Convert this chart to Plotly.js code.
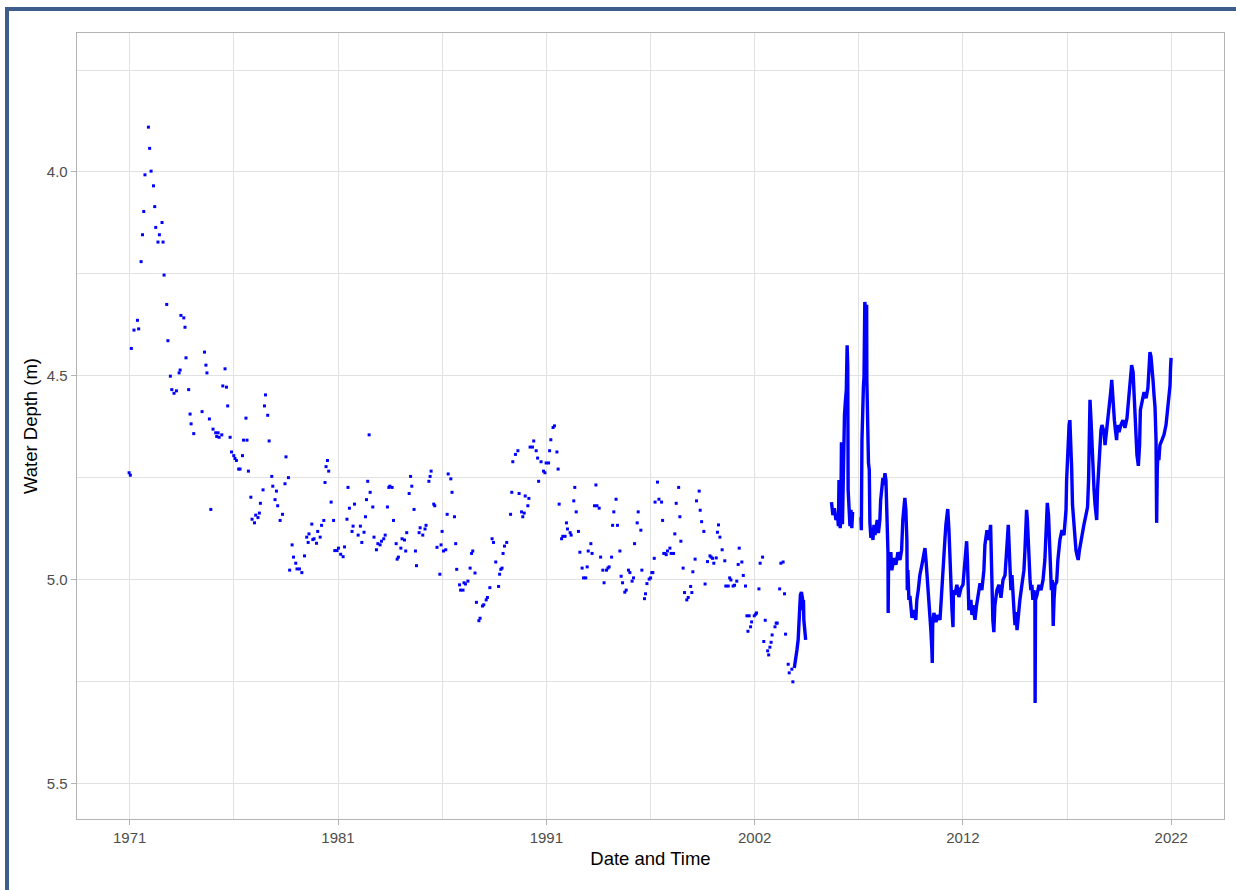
<!DOCTYPE html>
<html>
<head>
<meta charset="utf-8">
<script src="https://cdn.plot.ly/plotly-3.0.1.min.js"></script>
<style>
  html, body { margin:0; padding:0; background:#ffffff; overflow:hidden; }
  #chart { position:absolute; left:0; top:0; width:1236px; height:890px; }
  #frame { position:absolute; left:5px; top:7px; width:1231px; height:883px;
           border-top:4px solid #3d5e8b; border-left:4px solid #3d5e8b;
           box-sizing:border-box; pointer-events:none; z-index:10; }
</style>
</head>
<body>
<div id="chart"></div>
<div id="frame"></div>
<script>
// ---- Axis ticks (decimal years) ----
const xTickVals = [1971.25, 1981.5, 1991.75, 2002, 2012.25, 2022.5];
const xTickText = ['1971', '1981', '1991', '2002', '2012', '2022'];
const xMinorVals = [1976.375, 1986.625, 1996.875, 2007.125, 2017.375];
const yTickVals = [4.0, 4.5, 5.0, 5.5];
const yTickText = ['4.0', '4.5', '5.0', '5.5'];
const yMinorVals = [3.75, 4.25, 4.75, 5.25];

// ---- Manual (sparse) measurements ----
const manualYear = [
1971.22,1971.28,1971.33,1971.46,1971.63,1971.69,1971.81,1971.88,1971.94,1972.00,
1972.17,1972.23,1972.30,1972.42,1972.48,1972.53,1972.64,1972.71,1972.84,1972.89,
1972.94,1973.07,1973.13,1973.25,1973.32,1973.43,1973.55,1973.68,1973.73,1973.77,
1973.91,1973.97,1974.02,1974.15,1974.22,1974.27,1974.40,1974.81,1974.93,1975.00,
1975.05,1975.17,1975.24,1975.35,1975.48,1975.53,1975.60,1975.65,1975.78,1975.83,
1975.94,1976.01,1976.07,1976.19,1976.26,1976.37,1976.43,1976.50,1976.61,1976.68,
1976.80,1976.85,1976.97,1977.02,1977.09,1977.21,1977.27,1977.39,1977.45,1977.56,
1977.63,1977.68,1977.81,1977.88,1977.93,1978.04,1978.11,1978.24,1978.29,1978.40,
1978.47,1978.53,1978.65,1978.77,1978.89,1978.94,1979.06,1979.12,1979.24,1979.31,
1979.42,1979.48,1979.60,1979.72,1979.85,1979.96,1980.03,1980.07,1980.21,1980.26,
1980.32,1980.44,1980.50,1980.62,1980.69,1980.80,1980.86,1980.91,1980.98,1981.04,
1981.16,1981.28,1981.34,1981.45,1981.52,1981.63,1981.75,1981.82,1981.94,1981.99,
1982.06,1982.19,1982.24,1982.31,1982.49,1982.60,1982.67,1982.78,1982.85,1982.90,
1982.96,1983.03,1983.08,1983.21,1983.27,1983.39,1983.46,1983.57,1983.64,1983.75,
1983.82,1983.93,1984.00,1984.05,1984.16,1984.23,1984.36,1984.41,1984.47,1984.59,
1984.65,1984.77,1984.83,1984.88,1985.00,1985.07,1985.13,1985.24,1985.31,1985.36,
1985.49,1985.54,1985.67,1985.78,1985.83,1985.97,1986.03,1986.08,1986.21,1986.26,
1986.37,1986.51,1986.57,1986.62,1986.69,1986.80,1986.87,1986.92,1987.05,1987.11,
1987.23,1987.29,1987.34,1987.48,1987.53,1987.65,1987.70,1987.77,1987.89,1988.00,
1988.07,1988.13,1988.24,1988.31,1988.43,1988.49,1988.61,1988.67,1988.79,1988.85,
1988.97,1989.08,1989.15,1989.26,1989.40,1989.45,1989.51,1989.57,1989.62,1989.69,
1989.80,1989.99,1990.05,1990.10,1990.23,1990.35,1990.41,1990.53,1990.59,1990.66,
1990.71,1990.84,1990.89,1990.95,1991.07,1991.13,1991.25,1991.32,1991.37,1991.49,
1991.61,1991.68,1991.74,1991.86,1991.91,1991.97,1992.08,1992.15,1992.27,1992.33,
1992.38,1992.50,1992.56,1992.67,1992.74,1992.79,1992.92,1992.97,1993.10,1993.15,
1993.22,1993.33,1993.40,1993.51,1993.58,1993.69,1993.76,1993.81,1993.94,1994.00,
1994.12,1994.19,1994.24,1994.35,1994.42,1994.53,1994.59,1994.71,1994.78,1994.84,
1994.96,1995.01,1995.07,1995.18,1995.25,1995.37,1995.43,1995.50,1995.61,1995.68,
1995.79,1995.86,1995.97,1996.04,1996.09,1996.22,1996.27,1996.40,1996.45,1996.58,
1996.63,1996.70,1996.81,1996.88,1996.94,1996.99,1997.06,1997.10,1997.22,1997.29,
1997.42,1997.47,1997.53,1997.58,1997.65,1997.71,1997.83,1997.89,1998.01,1998.07,
1998.14,1998.26,1998.32,1998.37,1998.48,1998.55,1998.66,1998.73,1998.85,1998.91,
1998.96,1999.07,1999.14,1999.27,1999.32,1999.39,1999.50,1999.56,1999.68,1999.80,
1999.86,1999.93,1999.99,2000.11,2000.17,2000.22,2000.29,2000.40,2000.53,2000.58,
2000.70,2000.77,2000.83,2000.94,2001.01,2001.12,2001.19,2001.24,2001.37,2001.44,
2001.55,2001.62,2001.67,2001.73,2001.80,2001.85,2001.98,2002.05,2002.09,2002.21,
2002.27,2002.39,2002.45,2002.52,2002.64,2002.69,2002.75,2002.81,2002.86,2003.00,
2003.06,2003.11,2003.23,2003.29,2003.40,2003.47,2003.52,2003.65,2003.70,2003.83,2003.88
];
const manualDepth = [
4.738,4.744,4.433,4.388,4.364,4.385,4.220,4.154,4.097,4.007,
3.890,3.942,3.998,4.034,4.085,4.136,4.172,4.154,4.124,4.172,
4.253,4.325,4.414,4.501,4.534,4.543,4.537,4.493,4.486,4.352,
4.358,4.381,4.456,4.534,4.594,4.618,4.642,4.588,4.442,4.474,
4.493,4.606,4.828,4.631,4.640,4.649,4.640,4.651,4.645,4.525,
4.483,4.528,4.574,4.651,4.687,4.696,4.703,4.708,4.729,4.729,
4.696,4.658,4.604,4.658,4.734,4.798,4.852,4.861,4.842,4.848,
4.837,4.813,4.780,4.574,4.547,4.597,4.660,4.747,4.771,4.804,
4.783,4.819,4.855,4.840,4.765,4.699,4.750,4.977,4.915,4.945,
4.960,4.974,4.974,4.983,4.942,4.896,4.909,4.888,4.864,4.902,
4.900,4.911,4.882,4.896,4.867,4.855,4.762,4.723,4.708,4.734,
4.810,4.855,4.929,4.929,4.923,4.938,4.944,4.920,4.852,4.774,
4.825,4.882,4.869,4.815,4.891,4.869,4.909,4.884,4.846,4.804,
4.759,4.645,4.786,4.822,4.896,4.927,4.912,4.915,4.906,4.900,
4.891,4.822,4.774,4.771,4.774,4.855,4.912,4.950,4.945,4.923,
4.900,4.903,4.930,4.885,4.789,4.747,4.771,4.828,4.930,4.966,
4.885,4.873,4.891,4.876,4.867,4.759,4.747,4.734,4.815,4.819,
4.921,4.987,4.915,4.882,4.930,4.927,4.840,4.741,4.753,4.786,
4.846,4.912,4.975,5.013,5.026,5.026,5.008,5.011,5.004,4.972,
4.936,4.930,4.984,5.056,5.101,5.095,5.065,5.062,5.050,5.044,
5.020,4.900,4.909,4.957,5.017,4.987,4.975,4.972,4.936,4.918,
4.909,4.840,4.786,4.711,4.693,4.684,4.789,4.834,4.846,4.837,
4.795,4.819,4.801,4.675,4.675,4.660,4.684,4.702,4.759,4.711,
4.734,4.738,4.714,4.714,4.684,4.657,4.627,4.623,4.687,4.729,
4.815,4.900,4.894,4.894,4.861,4.876,4.885,4.891,4.807,4.774,
4.834,4.882,4.933,4.972,4.996,4.996,4.969,4.930,4.912,4.936,
4.819,4.768,4.819,4.825,4.945,4.977,5.008,4.977,4.972,4.969,
4.945,4.867,4.834,4.803,4.867,4.930,4.992,5.008,5.031,5.026,
4.977,4.983,5.004,4.996,4.912,4.861,4.834,4.879,4.977,5.047,
5.035,5.010,4.999,4.996,4.983,4.983,4.948,4.810,4.761,4.803,
4.810,4.855,4.936,4.936,4.939,4.930,4.923,4.936,4.936,4.888,
4.813,4.774,4.846,4.906,4.972,5.032,5.050,5.044,5.017,5.032,
4.981,4.950,4.807,4.783,4.830,4.858,4.882,5.011,4.956,4.942,
4.945,4.948,4.960,4.947,4.884,4.866,4.896,4.927,4.954,5.016,
5.016,4.996,5.001,5.016,5.014,5.004,4.963,4.923,4.957,4.990,
5.016,5.089,5.127,5.089,5.116,5.104,5.089,5.085,5.082,5.023,
4.960,4.945,5.152,5.100,5.175,5.185,5.166,5.154,5.136,5.116,
5.107,5.107,5.023,4.960,4.957,5.035,5.134,5.208,5.229,5.220,5.251
];

// ---- Logger (dense) record, read as a trace; null = gap in record ----
const loggerYear = [
2003.95,2004.00,2004.08,2004.14,2004.17,2004.19,2004.25,2004.30,2004.35,2004.37,2004.40,2004.42,2004.47,2004.51,
null,
2005.78,2005.85,2005.92,2006.00,2006.07,2006.12,2006.15,2006.18,2006.21,2006.24,
2006.27,2006.29,2006.32,2006.37,2006.42,2006.47,2006.51,2006.55,2006.58,2006.60,
2006.64,2006.69,2006.74,2006.78,2006.82,
null,
2007.23,2007.25,2007.28,2007.30,2007.33,2007.35,2007.38,2007.39,2007.42,2007.47,
2007.51,2007.52,2007.55,2007.57,2007.60,2007.64,2007.65,2007.67,2007.72,2007.77,
2007.82,2007.87,2007.92,2007.97,2008.03,2008.09,2008.16,2008.20,2008.26,2008.31,
2008.36,2008.41,2008.46,2008.48,2008.51,2008.53,2008.56,2008.57,2008.59,2008.65,
2008.70,2008.75,2008.85,2008.95,2009.05,2009.15,2009.23,2009.29,2009.34,2009.39,
2009.44,2009.49,2009.51,2009.54,2009.59,2009.64,2009.74,2009.84,2009.93,2009.98,
2010.05,2010.13,2010.23,2010.33,2010.38,2010.43,2010.48,2010.54,2010.57,2010.62,
2010.67,2010.72,2010.74,2010.76,2010.82,2010.92,2011.02,2011.12,2011.20,2011.26,
2011.36,2011.41,2011.50,2011.56,2011.61,2011.66,2011.71,2011.76,2011.78,2011.85,
2011.95,2012.05,2012.15,2012.25,2012.35,2012.43,2012.47,2012.49,2012.54,2012.64,
2012.69,2012.74,2012.84,2012.92,2012.99,2013.09,2013.18,2013.28,2013.33,2013.43,
2013.53,2013.61,2013.65,2013.68,2013.72,2013.77,2013.82,2013.92,2014.02,2014.12,
2014.22,2014.32,2014.36,2014.41,2014.48,2014.51,2014.56,2014.61,2014.66,2014.71,
2014.76,2014.81,2014.86,2014.91,2014.96,2015.05,2015.15,2015.25,2015.30,2015.35,
2015.38,2015.42,2015.46,2015.50,2015.55,2015.59,2015.64,2015.69,2015.74,2015.79,
2015.80,2015.82,2015.89,2015.99,2016.09,2016.19,2016.28,2016.33,2016.40,2016.46,
2016.51,2016.55,2016.60,2016.65,2016.69,2016.73,2016.78,2016.86,2016.92,2017.02,
2017.12,2017.22,2017.27,2017.32,2017.35,2017.42,2017.47,2017.51,2017.56,2017.60,
2017.64,2017.71,2017.76,2017.81,2017.86,2017.92,2017.98,2018.06,2018.13,2018.20,
2018.30,2018.38,2018.43,2018.45,2018.50,2018.55,2018.60,2018.65,2018.70,2018.75,
2018.83,2018.87,2018.92,2018.99,2019.04,2019.09,2019.19,2019.24,2019.32,2019.38,
2019.48,2019.53,2019.57,2019.61,2019.65,2019.70,2019.75,2019.81,2019.85,2019.93,
2020.02,2020.12,2020.22,2020.32,2020.42,2020.47,2020.55,2020.62,2020.66,2020.71,
2020.76,2020.81,2020.88,2020.94,2020.98,2021.06,2021.16,2021.26,2021.35,2021.40,
2021.45,2021.50,2021.55,2021.60,2021.65,2021.70,2021.75,2021.78,2021.81,2021.85,
2021.89,2021.94,2022.04,2022.14,2022.24,2022.29,2022.35,2022.39,2022.44,2022.46,2022.49
];
const loggerDepth = [
5.217,5.193,5.173,5.148,5.112,5.063,5.038,5.031,5.045,5.075,5.050,5.099,5.124,5.148,
null,
4.810,4.842,4.825,4.854,4.839,4.869,4.756,4.805,4.874,4.849,
4.663,4.707,4.864,4.648,4.596,4.559,4.535,4.425,4.476,4.780,
4.829,4.869,4.829,4.874,4.834,
null,
4.847,4.879,4.658,4.601,4.633,4.528,4.503,4.358,4.319,4.353,
4.326,4.510,4.601,4.658,4.714,4.731,4.812,4.861,4.898,4.874,
4.903,4.866,4.891,4.874,4.854,4.886,4.854,4.805,4.780,4.751,
4.768,4.739,4.756,4.805,4.854,4.903,4.935,5.082,4.942,4.964,
4.933,4.977,4.947,4.964,4.933,4.952,4.928,4.854,4.817,4.800,
4.829,4.903,5.026,4.977,5.050,5.040,5.094,5.075,5.099,5.050,
5.026,4.989,4.964,4.928,4.923,4.952,4.989,5.009,5.050,5.087,
5.124,5.173,5.205,5.112,5.082,5.104,5.087,5.099,5.026,4.964,
4.903,4.866,4.827,4.879,4.969,5.026,5.075,5.117,5.026,5.038,
5.013,5.043,5.021,5.013,4.952,4.906,4.952,5.026,5.075,5.050,
5.087,5.063,5.099,5.063,5.038,5.009,5.026,4.977,4.915,4.879,
4.903,4.866,4.952,5.050,5.099,5.129,5.063,5.026,5.013,5.045,
5.001,4.989,4.952,4.903,4.866,4.903,4.964,5.026,4.989,5.050,
5.075,5.112,5.080,5.124,5.087,5.050,5.013,4.977,4.928,4.866,
4.829,4.854,4.915,4.964,5.001,5.026,5.013,5.050,5.026,5.050,
5.303,5.050,5.038,5.013,5.026,5.001,4.952,4.879,4.812,4.842,
4.928,4.977,5.026,5.001,5.114,5.050,5.013,5.006,4.952,4.903,
4.879,4.891,4.866,4.829,4.756,4.658,4.621,4.609,4.658,4.731,
4.817,4.866,4.903,4.928,4.940,4.952,4.928,4.903,4.879,4.866,
4.842,4.822,4.756,4.658,4.559,4.609,4.682,4.731,4.780,4.817,
4.854,4.780,4.731,4.658,4.633,4.621,4.638,4.670,4.633,4.614,
4.572,4.535,4.510,4.547,4.584,4.609,4.633,4.658,4.621,4.638,
4.621,4.609,4.628,4.604,4.547,4.510,4.474,4.491,4.535,4.584,
4.645,4.694,4.721,4.670,4.584,4.559,4.540,4.555,4.530,4.486,
4.442,4.452,4.474,4.510,4.547,4.577,4.658,4.861,4.731,4.682,
4.707,4.670,4.658,4.645,4.621,4.596,4.572,4.547,4.523,4.486,4.456
];

const traces = [
  {
    type: 'scatter', mode: 'lines',
    x: loggerYear, y: loggerDepth,
    connectgaps: false,
    line: { color: '#0000ff', width: 3.4 },
    hoverinfo: 'skip'
  },
  {
    type: 'scatter', mode: 'markers',
    x: manualYear, y: manualDepth,
    marker: { color: '#0000ff', size: 3, symbol: 'square', line: { width: 0 } },
    hoverinfo: 'skip'
  }
];

const layout = {
  width: 1236, height: 890,
  margin: { l: 77, r: 12, t: 33, b: 71, pad: 0 },
  paper_bgcolor: '#ffffff', plot_bgcolor: '#ffffff',
  showlegend: false,
  font: { family: 'Liberation Sans, Arial, sans-serif', size: 15, color: '#4d4d4d' },
  xaxis: {
    type: 'linear',
    range: [1968.656, 2025.094],
    tickmode: 'array', tickvals: xTickVals, ticktext: xTickText,
    ticks: 'outside', ticklen: 5, tickwidth: 1, tickcolor: '#b3b3b3',
    tickfont: { size: 15, color: '#4d4d4d' },
    showgrid: true, gridcolor: '#e2e2e2', gridwidth: 1,
    minor: { tickmode: 'array', tickvals: xMinorVals, showgrid: true, gridcolor: '#e2e2e2', gridwidth: 1, ticks: '' },
    zeroline: false,
    showline: true, mirror: true, linecolor: '#b3b3b3', linewidth: 1.3,
    title: { text: 'Date and Time', font: { size: 18.5, color: '#000000' }, standoff: 6 }
  },
  yaxis: {
    range: [5.5876, 3.659],
    tickmode: 'array', tickvals: yTickVals, ticktext: yTickText,
    ticks: 'outside', ticklen: 5, tickwidth: 1, tickcolor: '#b3b3b3',
    tickfont: { size: 15, color: '#4d4d4d' },
    showgrid: true, gridcolor: '#e2e2e2', gridwidth: 1,
    minor: { tickmode: 'array', tickvals: yMinorVals, showgrid: true, gridcolor: '#e2e2e2', gridwidth: 1, ticks: '' },
    zeroline: false,
    showline: true, mirror: true, linecolor: '#b3b3b3', linewidth: 1.3,
    title: { text: 'Water Depth (m)', font: { size: 18.5, color: '#000000' }, standoff: 4 }
  }
};

Plotly.newPlot('chart', traces, layout, { staticPlot: true, displayModeBar: false });
</script>
</body>
</html>
